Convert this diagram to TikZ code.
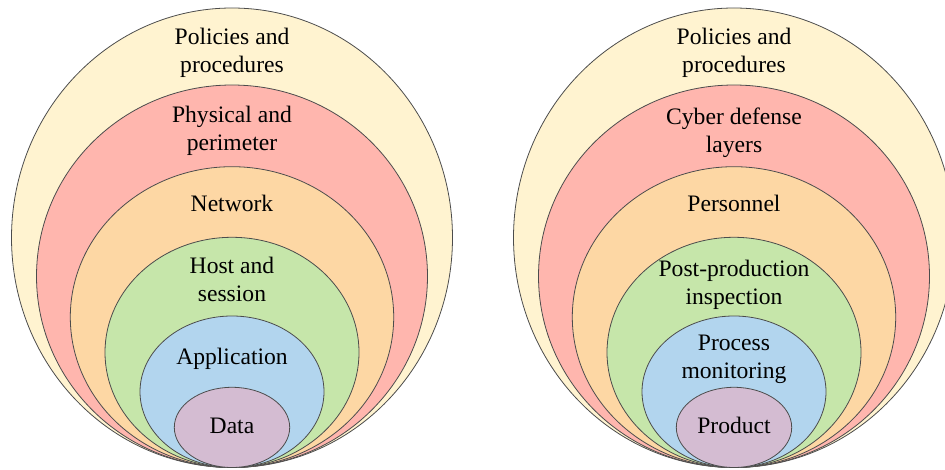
\documentclass[tikz,border=0pt]{standalone}
\usepackage{fontspec}
\setmainfont{Liberation Serif}
\definecolor{cyel}{RGB}{255,243,208}
\definecolor{cred}{RGB}{255,182,174}
\definecolor{cora}{RGB}{253,215,164}
\definecolor{cgrn}{RGB}{198,230,170}
\definecolor{cblu}{RGB}{178,213,238}
\definecolor{cpur}{RGB}{212,188,210}
\begin{document}
\begin{tikzpicture}[x=1pt,y=-1pt,
  layer/.style={draw=black!70, line width=0.8pt},
  lbl/.style={font=\fontsize{23.6}{28}\selectfont, align=center, anchor=base, inner sep=0pt}]
\useasboundingbox (0,0) rectangle (945,470);
\clip (0,0) rectangle (945,470);
\foreach \dx in {0,502}{
\begin{scope}[xshift=\dx pt]
\filldraw[layer, fill=cyel] (232,237.75) ellipse [x radius=220.5pt, y radius=229.75pt];
\filldraw[layer, fill=cred] (232,276.25) ellipse [x radius=195.5pt, y radius=191.25pt];
\filldraw[layer, fill=cora] (232,317.1) ellipse [x radius=161.7pt, y radius=150.4pt];
\filldraw[layer, fill=cgrn] (232,352.4) ellipse [x radius=127pt, y radius=115.1pt];
\filldraw[layer, fill=cblu] (232,391.75) ellipse [x radius=92pt, y radius=75.75pt];
\filldraw[layer, fill=cpur] (232,427.4) ellipse [x radius=57.7pt, y radius=40.1pt];
\end{scope}
}
\node[lbl] (l1) at (232,73) {Policies and\\procedures};
\node[lbl] (l2) at (232,151) {Physical and\\perimeter};
\node[lbl] (l3) at (232,211.7) {Network};
\node[lbl] (l4) at (232,301.7) {Host and\\session};
\node[lbl] (l5) at (232,364) {Application};
\node[lbl] (l6) at (232,433) {Data};
\node[lbl] (r1) at (734,73) {Policies and\\procedures};
\node[lbl] (r2) at (734,152.5) {Cyber defense\\layers};
\node[lbl] (r3) at (734,211.7) {Personnel};
\node[lbl] (r4) at (734,305) {Post-production\\inspection};
\node[lbl] (r5) at (734,378.3) {Process\\monitoring};
\node[lbl] (r6) at (734,433) {Product};
\end{tikzpicture}
\end{document}
